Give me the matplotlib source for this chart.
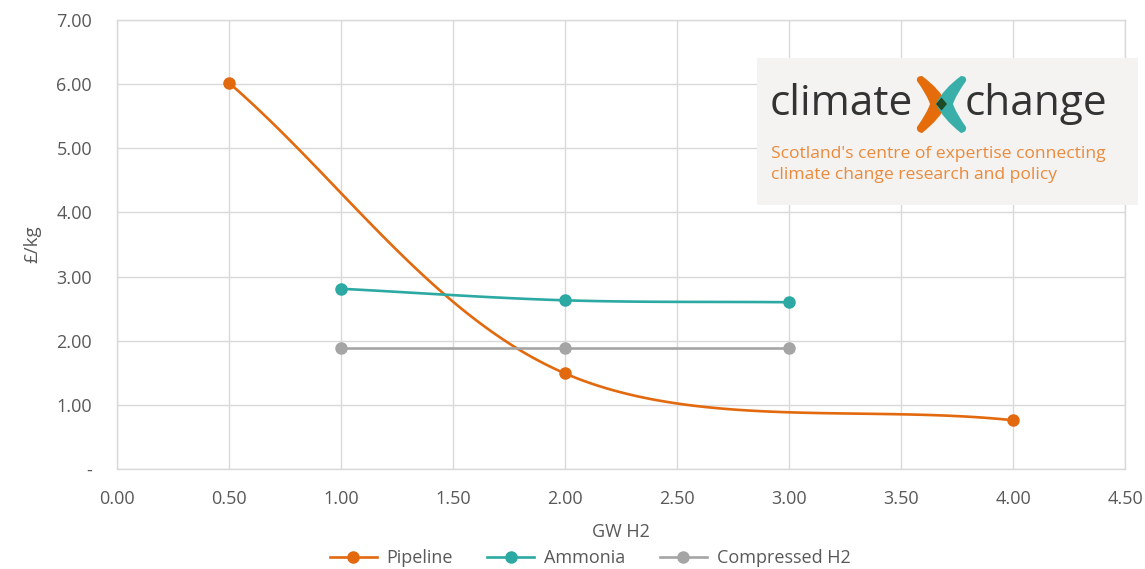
import numpy as np
import matplotlib
matplotlib.use("Agg")
import matplotlib.pyplot as plt
from matplotlib.path import Path
from matplotlib.patches import PathPatch, Rectangle
from matplotlib.ticker import FuncFormatter, MultipleLocator

# ---- data ----
pipeline_x = [0.5, 2.0, 4.0]
pipeline_y = [6.02, 1.49, 0.76]
ammonia_x = [1.0, 2.0, 3.0]
ammonia_y = [2.81, 2.63, 2.60]
compressed_x = [1.0, 2.0, 3.0]
compressed_y = [1.89, 1.89, 1.89]
series_names = ["Pipeline", "Ammonia", "Compressed H2"]
series_colors = ["#E2690E", "#2BA9A2", "#A5A5A5"]

plt.rcParams['font.family'] = ['Open Sans', 'DejaVu Sans']

W, H = 1145, 569
fig = plt.figure(figsize=(W / 100, H / 100), dpi=100)
fig.patch.set_facecolor("white")

ax = fig.add_axes([117 / W, 1 - 469 / H, (1125 - 117) / W, (469 - 20) / H])


def excel_smooth(xs, ys, n=60):
    P = np.column_stack([xs, ys]).astype(float)
    m = len(P)
    out = [P[0]]
    t = np.linspace(0, 1, n)[1:, None]
    for i in range(m - 1):
        p0 = P[i]
        p3 = P[i + 1]
        prev = P[i - 1] if i > 0 else 2 * P[i] - P[i + 1]
        nxt = P[i + 2] if i + 2 < m else 2 * P[i + 1] - P[i]
        c1 = p0 + (p3 - prev) / 6.0
        c2 = p3 - (nxt - p0) / 6.0
        seg = ((1 - t) ** 3) * p0 + 3 * ((1 - t) ** 2) * t * c1 + 3 * (1 - t) * t ** 2 * c2 + t ** 3 * p3
        out.extend(seg)
    out = np.array(out)
    return out[:, 0], out[:, 1]


data = [(pipeline_x, pipeline_y), (ammonia_x, ammonia_y), (compressed_x, compressed_y)]
handles = []
for (xs, ys), name, col in zip(data, series_names, series_colors):
    sx, sy = excel_smooth(xs, ys)
    ax.plot(sx, sy, color=col, lw=1.9, solid_capstyle='round', zorder=3)
    ax.plot(xs, ys, linestyle='none', marker='o', ms=8, color=col, zorder=4)
    h, = ax.plot([], [], color=col, lw=1.9, marker='o', ms=8, label=name)
    handles.append(h)

ax.set_xlim(0, 4.5)
ax.set_ylim(0, 7)
ax.xaxis.set_major_locator(MultipleLocator(0.5))
ax.yaxis.set_major_locator(MultipleLocator(1.0))
ax.xaxis.set_major_formatter(FuncFormatter(lambda v, p: f"{v:.2f}"))
ax.yaxis.set_major_formatter(FuncFormatter(lambda v, p: "-" if abs(v) < 1e-9 else f"{v:.2f}"))
ax.grid(True, color="#D9D9D9", lw=1.0, zorder=0)
ax.set_axisbelow(True)
for s in ax.spines.values():
    s.set_color("#D9D9D9")
    s.set_linewidth(1.0)
ax.tick_params(length=0, colors="#595959", labelsize=13)
ax.tick_params(axis='y', pad=18)
ax.tick_params(axis='x', pad=15)
ax.set_xlabel("GW H2", color="#595959", fontsize=13, labelpad=11)
ax.set_ylabel("£/kg", color="#595959", fontsize=13.5, labelpad=11)

leg = fig.legend(handles=handles, loc='center', bbox_to_anchor=(590 / W, 1 - 558 / H), ncol=3,
                 frameon=False, fontsize=13, handlelength=2.6, columnspacing=1.9,
                 handletextpad=0.55, labelcolor="#595959")

# ---- logo box ----
lx0, lx1, ly0, ly1 = 757, 1138, 58, 205
lax = fig.add_axes([lx0 / W, 1 - ly1 / H, (lx1 - lx0) / W, (ly1 - ly0) / H])
lax.set_xlim(lx0, lx1)
lax.set_ylim(ly1, ly0)
lax.axis('off')
lax.add_patch(Rectangle((lx0, ly0), lx1 - lx0, ly1 - ly0, facecolor="#F4F3F1", edgecolor='none', zorder=0))

lax.text(770, 104, "climate", fontsize=30.5, color="#333333", va='center', ha='left', zorder=2)
lax.text(965, 104, "change", fontsize=30.5, color="#333333", va='center', ha='left', zorder=2)

cx, cy = 941.5, 104
C3 = Path.CURVE3
orange_pts = [(917, 81), (927, 95), (930, cy), (927, 113), (917, 127),
              (916, 132), (922, 133), (940, 119), (947, cy), (940, 89), (922, 76), (916, 76), (917, 81)]
orange_codes = [Path.MOVETO, C3, C3, C3, C3,
                C3, C3, C3, C3, C3, C3, C3, C3]
orange = Path(orange_pts, orange_codes)
teal_pts = [(2 * cx - x, y) for x, y in orange_pts]
teal = Path(teal_pts, orange_codes)
lax.add_patch(PathPatch(orange, facecolor="#E46C0A", edgecolor='none', zorder=3))
lax.add_patch(PathPatch(teal, facecolor="#3AAFA9", edgecolor='none', zorder=3))
diamond = Path([(cx, cy - 6.5), (cx + 5.5, cy), (cx, cy + 6.5), (cx - 5.5, cy), (cx, cy - 6.5)],
               [Path.MOVETO, Path.LINETO, Path.LINETO, Path.LINETO, Path.CLOSEPOLY])
lax.add_patch(PathPatch(diamond, facecolor="#1F4A25", edgecolor='none', zorder=4))

lax.text(771, 154, "Scotland's centre of expertise connecting", fontsize=12.6, color="#EA8A3C",
         va='center', ha='left', zorder=2)
lax.text(771, 175, "climate change research and policy", fontsize=12.6, color="#EA8A3C",
         va='center', ha='left', zorder=2)

fig.savefig("out.png", dpi=100, facecolor="white")
